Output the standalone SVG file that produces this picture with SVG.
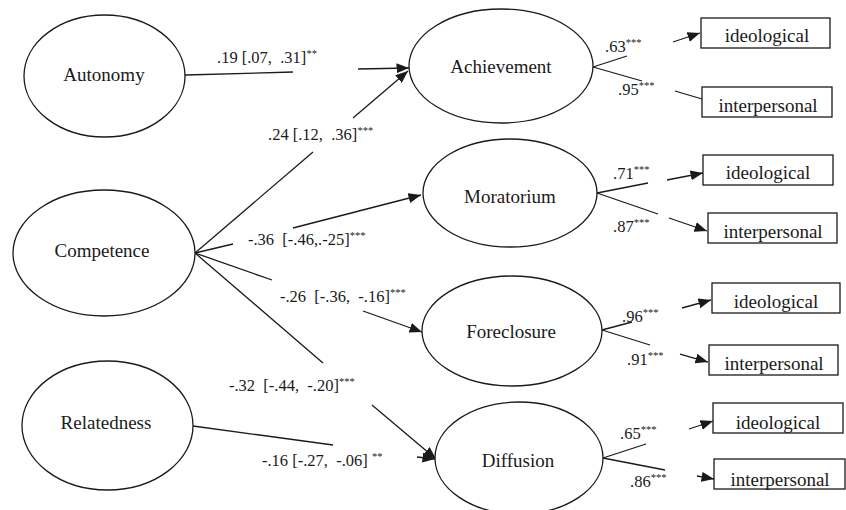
<svg xmlns="http://www.w3.org/2000/svg" width="846" height="510" viewBox="0 0 846 510">
<style>
  .node ellipse { fill: #ffffff; stroke: #1a1a1a; stroke-width: 1.3; }
  .box rect { fill: #ffffff; stroke: #1a1a1a; stroke-width: 1.3; }
  .nt { font-family: "Liberation Serif", "Times New Roman", serif; font-size: 19px; fill: #1a1a1a; text-anchor: middle; }
  .lbl { font-family: "Liberation Serif", "Times New Roman", serif; font-size: 16.5px; fill: #1a1a1a; white-space: pre; }
  .sup { font-size: 10.5px; }
  #connectors line { stroke: #1a1a1a; stroke-width: 1.3; fill: none; }
  .arr { marker-end: url(#ah); }
</style>
<defs>
  <marker id="ah" markerUnits="userSpaceOnUse" markerWidth="14" markerHeight="11" refX="12.5" refY="5" orient="auto">
    <path d="M0,0 L12.5,5 L0,10 z" fill="#1a1a1a"/>
  </marker>
</defs>
<rect x="0" y="0" width="846" height="510" fill="#ffffff"/>

<g id="connectors">
  <g id="c-autonomy-achievement"><line x1="185" y1="75" x2="293" y2="72"/><line class="arr" x1="358" y1="69" x2="409" y2="68"/></g>
  <g id="c-competence-achievement"><line x1="195" y1="253" x2="313" y2="152"/><line class="arr" x1="353" y1="118" x2="408" y2="71"/></g>
  <g id="c-competence-moratorium"><line x1="195" y1="253" x2="233" y2="244"/><line class="arr" x1="293" y1="228" x2="421" y2="195"/></g>
  <g id="c-competence-foreclosure"><line x1="195" y1="253" x2="272" y2="280"/><line class="arr" x1="363" y1="311" x2="422" y2="332"/></g>
  <g id="c-competence-diffusion"><line x1="195" y1="253" x2="323" y2="363"/><line class="arr" x1="372" y1="405" x2="436" y2="459"/></g>
  <g id="c-relatedness-diffusion"><line x1="193" y1="426" x2="333" y2="445"/><line class="arr" x1="417" y1="457" x2="435" y2="459"/></g>
  <g id="c-ach-ideo"><line x1="593" y1="67" x2="627" y2="56"/><line class="arr" x1="673" y1="42" x2="700" y2="33"/></g>
  <g id="c-ach-inter"><line x1="593" y1="67" x2="642" y2="81"/><line x1="675" y1="91" x2="702" y2="99"/></g>
  <g id="c-mor-ideo"><line x1="597" y1="193" x2="648" y2="183"/><line class="arr" x1="667" y1="180" x2="703" y2="173"/></g>
  <g id="c-mor-inter"><line x1="597" y1="193" x2="658" y2="214"/><line class="arr" x1="669" y1="218" x2="707" y2="231"/></g>
  <g id="c-for-ideo"><line x1="602" y1="330" x2="632" y2="322"/><line class="arr" x1="682" y1="308" x2="711" y2="300"/></g>
  <g id="c-for-inter"><line x1="602" y1="330" x2="650" y2="345"/><line class="arr" x1="680" y1="354" x2="708" y2="362"/></g>
  <g id="c-dif-ideo"><line x1="603" y1="458" x2="646" y2="444"/><line class="arr" x1="689" y1="429" x2="713" y2="421"/></g>
  <g id="c-dif-inter"><line x1="603" y1="458" x2="665" y2="470"/><line class="arr" x1="697" y1="476" x2="714" y2="479"/></g>
</g>

<g id="labels">
  <text class="lbl" x="217" y="63">.19 [.07,  .31]<tspan class="sup" dy="-6">**</tspan></text>
  <text class="lbl" x="268" y="140">.24 [.12,  .36]<tspan class="sup" dy="-6">***</tspan></text>
  <text class="lbl" x="248" y="245">-.36  [-.46,.-25]<tspan class="sup" dy="-6">***</tspan></text>
  <text class="lbl" x="280" y="302">-.26  [-.36,  -.16]<tspan class="sup" dy="-6">***</tspan></text>
  <text class="lbl" x="229" y="391">-.32  [-.44,  -.20]<tspan class="sup" dy="-6">***</tspan></text>
  <text class="lbl" x="262" y="466">-.16 [-.27,  -.06] <tspan class="sup" dy="-6">**</tspan></text>
  <text class="lbl" x="605" y="52">.63<tspan class="sup" dy="-6">***</tspan></text>
  <text class="lbl" x="618" y="95">.95<tspan class="sup" dy="-6">***</tspan></text>
  <text class="lbl" x="613" y="179">.71<tspan class="sup" dy="-6">***</tspan></text>
  <text class="lbl" x="613" y="232">.87<tspan class="sup" dy="-6">***</tspan></text>
  <text class="lbl" x="622" y="322">.96<tspan class="sup" dy="-6">***</tspan></text>
  <text class="lbl" x="627" y="365">.91<tspan class="sup" dy="-6">***</tspan></text>
  <text class="lbl" x="620" y="439">.65<tspan class="sup" dy="-6">***</tspan></text>
  <text class="lbl" x="630" y="487">.86<tspan class="sup" dy="-6">***</tspan></text>
</g>

<g id="autonomy" class="node"><ellipse cx="104.5" cy="76" rx="80.5" ry="61"/><text class="nt" x="104" y="81">Autonomy</text></g>
<g id="competence" class="node"><ellipse cx="104" cy="253" rx="91" ry="63"/><text class="nt" x="102" y="257">Competence</text></g>
<g id="relatedness" class="node"><ellipse cx="107.5" cy="425.5" rx="85.5" ry="64.5"/><text class="nt" x="106" y="429">Relatedness</text></g>

<g id="achievement" class="node"><ellipse cx="501" cy="66" rx="92" ry="57"/><text class="nt" x="501" y="73">Achievement</text></g>
<g id="moratorium" class="node"><ellipse cx="510" cy="193" rx="87" ry="54"/><text class="nt" x="510" y="203">Moratorium</text></g>
<g id="foreclosure" class="node"><ellipse cx="512" cy="331" rx="90" ry="55"/><text class="nt" x="511" y="338">Foreclosure</text></g>
<g id="diffusion" class="node"><ellipse cx="519" cy="458" rx="84" ry="56"/><text class="nt" x="518" y="467">Diffusion</text></g>

<g id="ach-ideological" class="box"><rect x="701" y="18" width="129" height="30"/><text class="nt" x="767" y="42">ideological</text></g>
<g id="ach-interpersonal" class="box"><rect x="702" y="87" width="130" height="30"/><text class="nt" x="768" y="112">interpersonal</text></g>
<g id="mor-ideological" class="box"><rect x="703" y="155" width="130" height="30"/><text class="nt" x="768" y="179">ideological</text></g>
<g id="mor-interpersonal" class="box"><rect x="708" y="213" width="129" height="30"/><text class="nt" x="773" y="238">interpersonal</text></g>
<g id="for-ideological" class="box"><rect x="712" y="283" width="128" height="30"/><text class="nt" x="776" y="308">ideological</text></g>
<g id="for-interpersonal" class="box"><rect x="709" y="345" width="129" height="30"/><text class="nt" x="774" y="370">interpersonal</text></g>
<g id="dif-ideological" class="box"><rect x="713" y="403" width="130" height="30"/><text class="nt" x="778" y="429">ideological</text></g>
<g id="dif-interpersonal" class="box"><rect x="714" y="459" width="131" height="30"/><text class="nt" x="780" y="486">interpersonal</text></g>
</svg>
